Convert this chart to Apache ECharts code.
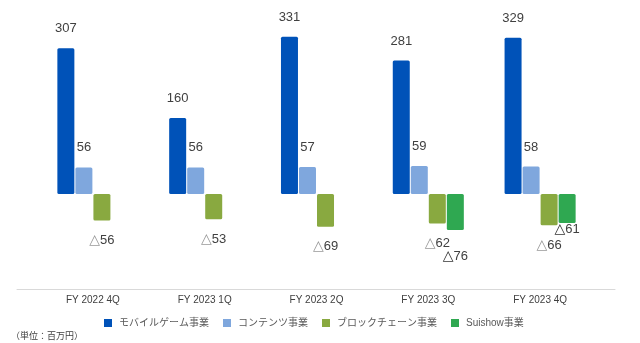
<!DOCTYPE html>
<html>
<head>
<meta charset="utf-8">
<script src="https://cdn.jsdelivr.net/npm/echarts@6/dist/echarts.min.js"></script>
<style>
html,body{margin:0;padding:0;background:#fff;}
#chart{width:640px;height:343px;}
</style>
</head>
<body>
<div id="chart"></div>
<script>
const categories = ['FY 2022 4Q', 'FY 2023 1Q', 'FY 2023 2Q', 'FY 2023 3Q', 'FY 2023 4Q'];
const seriesNames = ['モバイルゲーム事業', 'コンテンツ事業', 'ブロックチェーン事業', 'Suishow事業'];
const mobileGame = [307, 160, 331, 281, 329];
const contents = [56, 56, 57, 59, 58];
const blockchain = [-56, -53, -69, -62, -66];
const suishow = [null, null, null, -76, -61];
const unitNote = '（単位：百万円）';

const colors = ['#0052B8', '#7FA7DD', '#89A940', '#2FA851'];
const FONT = '"Liberation Sans", Arial, "Noto Sans CJK JP", sans-serif';

function fmt(v) {
  return v < 0 ? '{t|△}{n|' + Math.abs(v) + '}' : '{n|' + v + '}';
}

function makeData(arr, idx) {
  return arr.map(function (v, i) {
    if (v === null) return null;
    let dist = 13;
    if (idx === 3 && i === 3) dist = 19;
    if (idx === 3 && i === 4) dist = -1;
    return {
      value: v,
      label: { position: v < 0 ? 'bottom' : 'top', distance: dist }
    };
  });
}

const triColor = ['#999', '#999', '#999', '#333'];
const allData = [mobileGame, contents, blockchain, suishow];

const series = allData.map(function (arr, idx) {
  return {
    name: seriesNames[idx],
    type: 'bar',
    xAxisIndex: 0,
    yAxisIndex: 0,
    barWidth: 17,
    barGap: '6%',
    itemStyle: { color: colors[idx], borderRadius: 1.5 },
    label: {
      show: true,
      formatter: function (p) { return fmt(p.value); },
      rich: {
        n: { fontSize: 13, color: '#404040', fontFamily: FONT },
        t: { fontSize: 14, color: triColor[idx], fontFamily: '"DejaVu Sans", sans-serif', fontWeight: idx === 3 ? 'bold' : 'normal' }
      }
    },
    data: makeData(arr, idx)
  };
});

// decorative full-width baseline axis
series.push({
  type: 'bar', xAxisIndex: 1, yAxisIndex: 1, data: [], silent: true
});

const chart = echarts.init(document.getElementById('chart'), null, { renderer: 'canvas' });
chart.setOption({
  animation: false,
  backgroundColor: '#ffffff',
  textStyle: { fontFamily: FONT },
  title: {
    text: unitNote,
    left: 6,
    top: 327,
    textStyle: { fontSize: 9, color: '#404040', fontWeight: 'normal', fontFamily: FONT }
  },
  legend: {
    data: seriesNames,
    left: 99,
    top: 313,
    icon: 'rect',
    itemWidth: 8,
    itemHeight: 8,
    itemGap: 14,
    textStyle: { fontSize: 10, color: '#595959', fontFamily: FONT, padding: [0, 0, 0, 2] }
  },
  grid: [
    { left: 37, right: 44, top: 4, bottom: 54 },
    { left: 17, right: 25, top: 4, bottom: 54 }
  ],
  xAxis: [
    {
      type: 'category', gridIndex: 0, data: categories,
      axisLine: { show: false, onZero: false },
      axisTick: { show: false },
      axisLabel: { color: '#404040', fontSize: 10, margin: 6, fontFamily: FONT }
    },
    {
      type: 'category', gridIndex: 1, data: [''],
      axisLine: { show: true, onZero: false, lineStyle: { color: '#D9D9D9', width: 1 } },
      axisTick: { show: false },
      axisLabel: { show: false }
    }
  ],
  yAxis: [
    { type: 'value', gridIndex: 0, min: -200, max: 400, show: false, splitLine: { show: false } },
    { type: 'value', gridIndex: 1, min: 0, max: 1, show: false, splitLine: { show: false } }
  ],
  series: series
});
</script>
</body>
</html>
